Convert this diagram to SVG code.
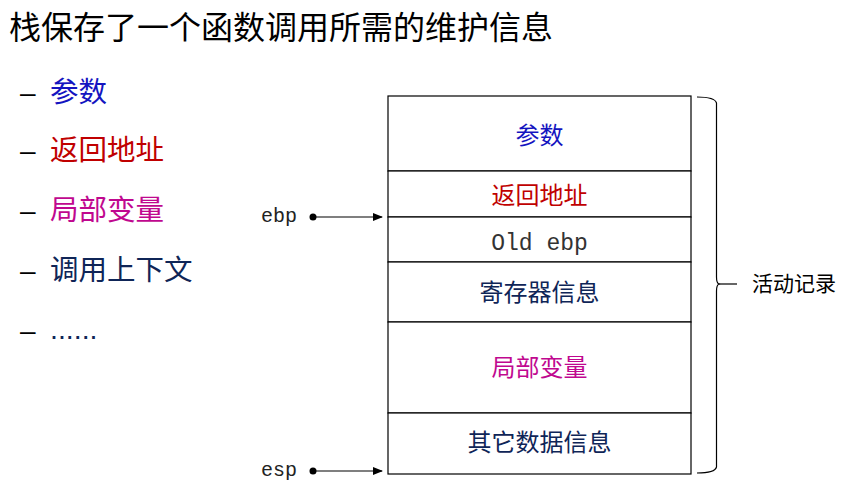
<svg xmlns="http://www.w3.org/2000/svg" width="845" height="498" viewBox="0 0 845 498">
<style>
.cjk{font-family:"Noto Sans CJK SC","Liberation Sans",sans-serif;}
.mono{font-family:"Liberation Mono","DejaVu Sans Mono",monospace;}
.dash{font-family:"Liberation Sans",sans-serif;font-size:28px;fill:#000;}
.cell{fill:#fff;stroke:#000;stroke-width:1.2;}
.lbl{font-size:24px;text-anchor:middle;}
.li{font-size:28.5px;}
.blue{fill:#1414C0;}
.red{fill:#C00000;}
.mag{fill:#C0088F;}
.navy{fill:#0F2557;}
.conn{stroke:#000;stroke-width:1.2;fill:none;}
</style>
<defs>
<marker id="arr" markerWidth="10" markerHeight="8" refX="9" refY="4" orient="auto" markerUnits="userSpaceOnUse">
<path d="M0,0 L10,4 L0,8 Z" fill="#000"/>
</marker>
</defs>
<rect width="845" height="498" fill="#fff"/>
<text class="cjk" x="9" y="39" font-size="32" fill="#000">栈保存了一个函数调用所需的维护信息</text>
<g id="list">
<text class="dash" x="20" y="102">–</text><text class="cjk li blue" x="50" y="102">参数</text>
<text class="dash" x="20" y="160">–</text><text class="cjk li red" x="50" y="160">返回地址</text>
<text class="dash" x="20" y="220">–</text><text class="cjk li mag" x="50" y="220">局部变量</text>
<text class="dash" x="20" y="280">–</text><text class="cjk li navy" x="50" y="280">调用上下文</text>
<text class="dash" x="20" y="340">–</text><text class="li navy" x="50" y="339" style="font-family:'Liberation Sans',sans-serif">......</text>
</g>
<g id="n_params"><rect class="cell" x="388" y="96" width="303" height="75"/><text class="cjk lbl blue" x="539.5" y="144">参数</text></g>
<g id="n_ret"><rect class="cell" x="388" y="171" width="303" height="46"/><text class="cjk lbl red" x="539.5" y="204">返回地址</text></g>
<g id="n_oldebp"><rect class="cell" x="388" y="217" width="303" height="45"/><text class="mono" x="539.5" y="250" font-size="23" text-anchor="middle" fill="#333">Old ebp</text></g>
<g id="n_regs"><rect class="cell" x="388" y="262" width="303" height="60"/><text class="cjk lbl navy" x="539.5" y="301">寄存器信息</text></g>
<g id="n_locals"><rect class="cell" x="388" y="322" width="303" height="91"/><text class="cjk lbl mag" x="539.5" y="376">局部变量</text></g>
<g id="n_other"><rect class="cell" x="388" y="413" width="303" height="61"/><text class="cjk lbl navy" x="539.5" y="451">其它数据信息</text></g>
<g id="n_ebp"><text class="mono" x="261" y="222" font-size="20" fill="#222">ebp</text></g>
<g id="n_esp"><text class="mono" x="261" y="476" font-size="20" fill="#222">esp</text></g>
<g id="n_brace">
<path class="conn" d="M697,97 Q715,97 716.5,103 L716.5,277 Q716.5,283 719,284 Q716.5,285 716.5,291 L716.5,467 Q715,473 697,473"/>
<path class="conn" d="M719,284 L737,284"/>
<text class="cjk" x="752" y="291" font-size="21" fill="#000">活动记录</text>
</g>
<g id="connectors">
<circle cx="313" cy="217" r="3.5" fill="#000"/>
<line class="conn" x1="313" y1="217" x2="382" y2="217" marker-end="url(#arr)"/>
<circle cx="313" cy="471" r="3.5" fill="#000"/>
<line class="conn" x1="313" y1="471" x2="382" y2="471" marker-end="url(#arr)"/>
</g>
</svg>
